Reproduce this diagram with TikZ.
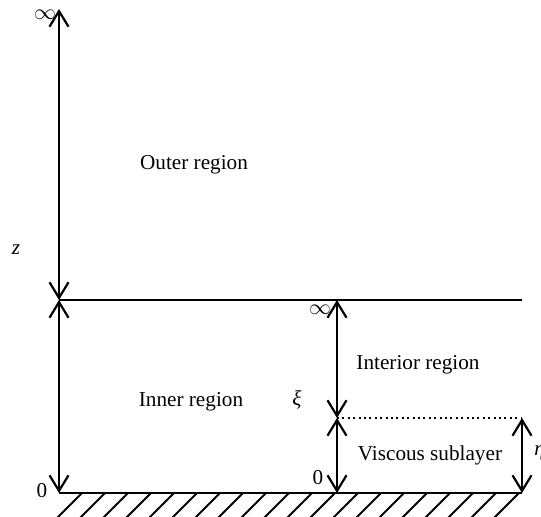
\documentclass[tikz,border=0pt]{standalone}
\usepackage{fontspec}
\setmainfont{Liberation Serif}
\usetikzlibrary{arrows.meta}

\begin{document}
\begin{tikzpicture}[x=0.5pt, y=-0.5pt,
  axis/.style={line width=1.1pt, {Straight Barb[length=7.8pt,width=9.5pt,line width=1.1pt]}-{Straight Barb[length=7.8pt,width=9.5pt,line width=1.1pt]}},
  boundary/.style={line width=1.2pt},
  hatchline/.style={line width=1pt},
  dotline/.style={line width=1pt, dash pattern=on 1pt off 1.7pt},
  lbl/.style={inner sep=0pt, font=\fontsize{10.6}{12.5}\selectfont}]
\useasboundingbox (0,0) rectangle (541,517);

% reference points on the axes
\coordinate (Ltop) at (59,9);
\coordinate (Lmid) at (59,300);
\coordinate (Lbot) at (59,493);
\coordinate (Rmid) at (522,300);
\coordinate (Rbot) at (522,493);
\coordinate (Mtop) at (337,300);
\coordinate (Mmid) at (337,418);
\coordinate (Mbot) at (337,493);
\coordinate (Vtop) at (522,418);

% wall with hatching
\draw[boundary] (Lbot) -- (Rbot);
\foreach \k in {0,...,19}
  \draw[hatchline] ({82+23*\k},493) -- ({82+23*\k-27},520);

% matching line between outer and inner regions
\draw[boundary] (Lmid) -- (Rmid);

% edge of the viscous sublayer
\draw[dotline] (Mmid) -- (Vtop);

% coordinate ranges
\draw[axis] (Lmid) -- (Ltop);
\draw[axis] (Lmid) -- (Lbot);
\draw[axis] (Mmid) -- (Mtop);
\draw[axis] (Mmid) -- (Mbot);
\draw[axis] (Vtop) -- (Rbot);

% labels
\node[lbl] (inftop) at (45,15) {$\infty$};
\node[lbl] (zlab) at (16,250) {\itshape z};
\node[lbl] (outer) at (194,165) {Outer region};
\node[lbl] (inner) at (191,402) {Inner region};
\node[lbl] (zeroL) at (42,491) {0};
\node[lbl] (infmid) at (320,310) {$\infty$};
\node[lbl] (xilab) at (297,400) {\itshape ξ};
\node[lbl] (interior) at (418,365) {Interior region};
\node[lbl] (viscous) at (430,455) {Viscous sublayer};
\node[lbl] (zeroM) at (318,478) {0};
\node[lbl, anchor=west] (etalab) at (534,453) {\itshape η};
\end{tikzpicture}
\end{document}
